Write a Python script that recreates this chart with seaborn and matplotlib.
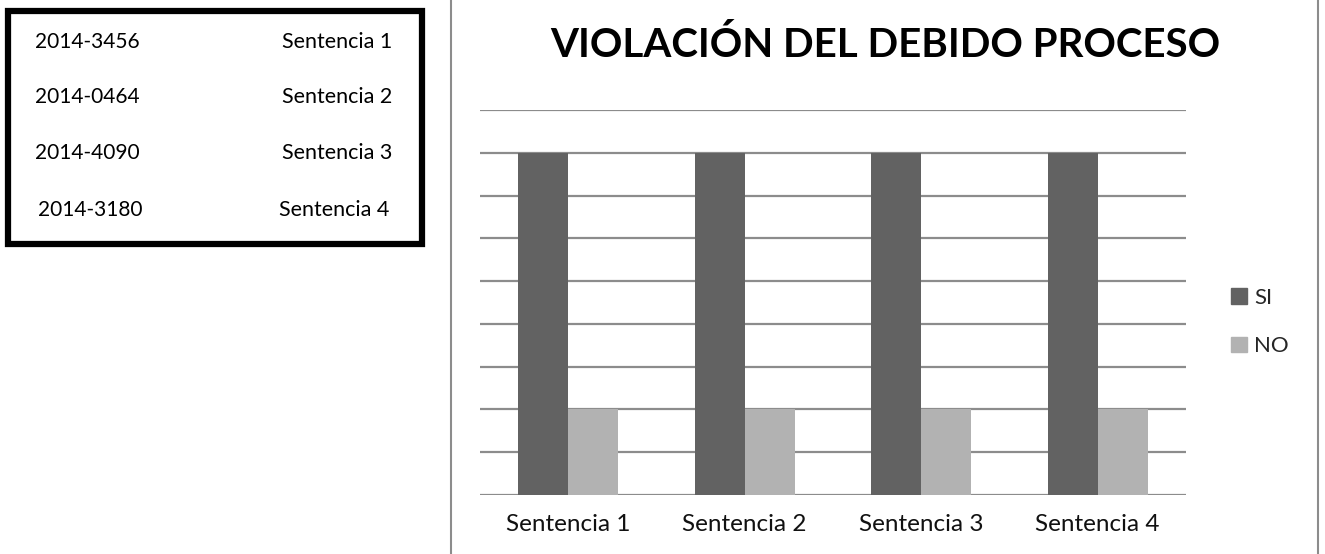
import matplotlib
matplotlib.use("Agg")
import matplotlib.pyplot as plt
from matplotlib.lines import Line2D
from matplotlib.patches import Rectangle
import seaborn as sns
import pandas as pd

# ---- data ----
categorias = ["Sentencia 1", "Sentencia 2", "Sentencia 3", "Sentencia 4"]
valores_si = [8, 8, 8, 8]
valores_no = [2, 2, 2, 2]
series = ["SI", "NO"]
colores = ["#626262", "#b2b2b2"]
expedientes = ["2014-3456", "2014-0464", "2014-4090", "2014-3180"]
titulo = "VIOLACIÓN DEL DEBIDO PROCESO"

df = pd.DataFrame({
    "Sentencia": categorias * 2,
    "Serie": ["SI"] * len(categorias) + ["NO"] * len(categorias),
    "Valor": valores_si + valores_no,
})

sns.set_theme(style="white")
plt.rcParams["font.family"] = ["Lato", "DejaVu Sans"]

W, H = 1325, 554
fig = plt.figure(figsize=(W / 100, H / 100), dpi=100)
fig.patch.set_facecolor("white")

def fx(x):
    return x / W

def fy(y):
    return 1 - y / H

ax = fig.add_axes([fx(480), fy(495), fx(1186) - fx(480), fy(110) - fy(495)])
sns.barplot(data=df, x="Sentencia", y="Valor", hue="Serie", hue_order=series,
            palette=colores, width=0.567, gap=0, saturation=1, ax=ax,
            legend=False, linewidth=0, zorder=3)
ax.set_ylim(0, 9)
ax.set_xlim(-0.5, 3.5)
ax.set_yticks(range(0, 10))
ax.set_yticklabels([])
ax.yaxis.grid(True, color="#8c8c8c", linewidth=1.6, zorder=0)
ax.set_axisbelow(True)
for s in ax.spines.values():
    s.set_visible(False)
ax.tick_params(axis="x", length=0, pad=14, labelsize=17.5, labelcolor="#111111")
ax.tick_params(axis="y", length=0)
ax.set_xlabel("")
ax.set_ylabel("")

# title
fig.text(fx(885), fy(45), titulo, ha="center", va="center",
         fontsize=29, fontweight="bold", color="#000000")

# legend
handles = [Rectangle((0, 0), 1, 1, color=c) for c in colores]
fig.legend(handles, series, loc="center left",
           bbox_to_anchor=(fx(1211), fy(322)), frameon=False,
           fontsize=16, handlelength=0.7, handleheight=0.7,
           handletextpad=0.35, labelspacing=1.27)

# chart frame lines
for x in (451, 1318):
    fig.add_artist(Line2D([fx(x), fx(x)], [0, 1], color="#8c8c8c", linewidth=1.5))

# left table box
fig.add_artist(Rectangle((fx(8), fy(244)), fx(422) - fx(8), fy(11) - fy(244),
                         fill=False, edgecolor="black", linewidth=4.5,
                         transform=fig.transFigure))
row_y = [42, 97, 153, 210]
left_x = [87, 87, 87, 90]
right_x = [337, 337, 337, 334]
for i in range(len(expedientes)):
    fig.text(fx(left_x[i]), fy(row_y[i]), expedientes[i], ha="center", va="center",
             fontsize=15, color="#000000")
    fig.text(fx(right_x[i]), fy(row_y[i]), categorias[i], ha="center", va="center",
             fontsize=15.5, color="#000000")

fig.savefig("out.png", dpi=100, facecolor="white")
